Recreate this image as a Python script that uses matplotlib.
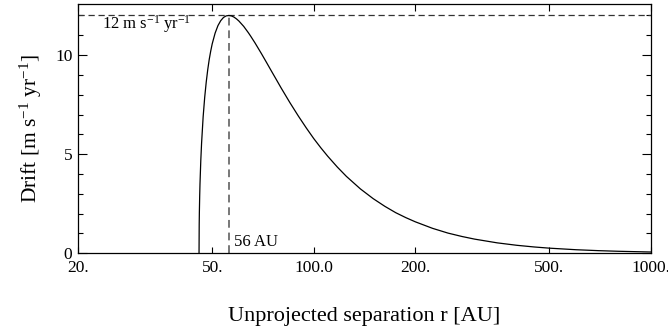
import matplotlib
matplotlib.use("Agg")
import matplotlib.pyplot as plt
from matplotlib.ticker import FixedLocator, FixedFormatter, MultipleLocator

# Data
r_au = [45.7, 45.75, 45.8, 45.9, 46.0, 46.25, 46.5, 47.0, 47.5, 48.0, 48.5, 49.0, 49.5,
        50.0, 51.0, 52.0, 53.0, 54.0, 55.0, 56.0, 57.0, 58.0, 59.0, 60.0, 62.0, 64.0,
        65.0, 67.0, 70.0, 72.5, 75.0, 77.5, 80.0, 85.0, 90.0, 95.0, 100.0, 105.0, 110.0,
        117.5, 125.0, 137.5, 150.0, 162.5, 175.0, 187.5, 200.0, 225.0, 250.0, 275.0,
        300.0, 350.0, 400.0, 450.0, 500.0, 600.0, 700.0, 800.0, 1000.0]
drift = [0.0, 1.45, 2.05, 2.88, 3.51, 4.68, 5.56, 6.89, 7.87, 8.64, 9.27, 9.79, 10.21,
         10.57, 11.11, 11.49, 11.74, 11.90, 11.98, 12.00, 11.98, 11.92, 11.83, 11.72, 11.45, 11.13,
         10.96, 10.61, 10.07, 9.62, 9.18, 8.76, 8.35, 7.60, 6.93, 6.33, 5.79, 5.32, 4.90,
         4.35, 3.88, 3.25, 2.76, 2.37, 2.05, 1.80, 1.59, 1.26, 1.02, 0.849,
         0.715, 0.527, 0.404, 0.320, 0.259, 0.180, 0.133, 0.102, 0.065]

peak_r = 56
peak_drift = 12

x_ticks = [20, 50, 100, 200, 500, 1000]
x_tick_labels = ["20.", "50.", "100.0", "200.", "500.", "1000."]
y_ticks = [0, 5, 10]

plt.rcParams['font.family'] = ['Liberation Serif', 'DejaVu Serif']
plt.rcParams['mathtext.fontset'] = 'custom'
plt.rcParams['mathtext.rm'] = 'Liberation Serif'
plt.rcParams['mathtext.it'] = 'Liberation Serif:italic'
plt.rcParams['mathtext.bf'] = 'Liberation Serif:bold'

fig = plt.figure(figsize=(6.68, 3.33), dpi=100)
ax = fig.add_axes([78/668, 1 - 253.3/333, (651-78)/668, (253.3-4)/333])

ax.plot(r_au, drift, color='black', lw=0.9, zorder=3)
ax.hlines(peak_drift, 20, 1000, colors='#333333', linestyles=(0, (5, 3)), lw=0.9)
ax.vlines(peak_r, 0, peak_drift, colors='#777777', linestyles=(0, (4, 2.5)), lw=1.4)

ax.set_xscale('log')
ax.set_xlim(20, 1000)
ax.set_ylim(0, 12.58)

ax.xaxis.set_major_locator(FixedLocator(x_ticks))
ax.xaxis.set_major_formatter(FixedFormatter(x_tick_labels))
ax.xaxis.set_minor_locator(FixedLocator([]))
ax.yaxis.set_major_locator(FixedLocator(y_ticks))
ax.yaxis.set_minor_locator(MultipleLocator(1))

ax.tick_params(axis='both', which='both', direction='in', top=True, right=True, colors='black')
ax.tick_params(axis='x', which='major', length=6.5 * 0.72, width=0.8, labelsize=12.5, pad=5)
ax.tick_params(axis='y', which='major', length=9 * 0.72, width=0.8, labelsize=12.5, pad=4)
ax.tick_params(axis='y', which='minor', length=5 * 0.72, width=0.8)
for s in ax.spines.values():
    s.set_linewidth(0.9)

ax.text(23.5, 11.55, r"12 m s$^{-1}$ yr$^{-1}$", fontsize=12, va='center', ha='left')
ax.text(58.0, 0.55, "56 AU", fontsize=12, va='center', ha='left')

ax.set_xlabel("Unprojected separation r [AU]", fontsize=16, labelpad=22)
ax.set_ylabel(r"Drift [m s$^{-1}$ yr$^{-1}$]", fontsize=15.5, labelpad=8)

fig.savefig("out.png", dpi=100)
